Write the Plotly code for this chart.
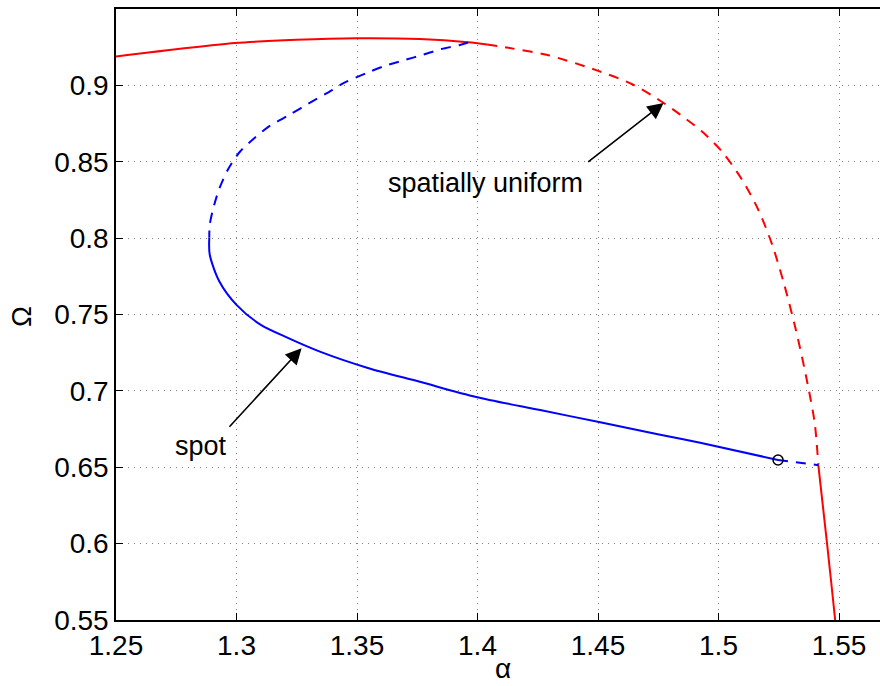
import plotly.graph_objects as go

# Spatially uniform branch (red): stable upper part, unstable middle part, stable lower part
uni_stable_top_a = [1.25, 1.2993, 1.3249, 1.3498, 1.3761, 1.3960, 1.4040]
uni_stable_top_w = [0.9191, 0.9279, 0.9300, 0.9310, 0.9305, 0.9285, 0.9270]

uni_unstable_a = [1.4040, 1.4134, 1.4287, 1.4495, 1.4646, 1.4771, 1.4841, 1.4928, 1.5015,
                  1.5098, 1.5165, 1.5223, 1.5273, 1.5321, 1.5362, 1.5399, 1.5414]
uni_unstable_w = [0.9270, 0.9246, 0.9202, 0.9100, 0.9006, 0.8888, 0.8810, 0.8704, 0.8567,
                  0.8383, 0.8187, 0.7957, 0.7695, 0.7400, 0.7106, 0.6791, 0.6516]

uni_stable_low_a = [1.5414, 1.5450, 1.5484, 1.5490]
uni_stable_low_w = [0.6516, 0.6005, 0.5500, 0.5400]

# Spot branch (blue): unstable upper part, stable lower part, unstable tail
spot_unstable_a = [1.3961, 1.3927, 1.3851, 1.3775, 1.3692, 1.3609, 1.3547, 1.3450, 1.3371,
                   1.3297, 1.3228, 1.3208, 1.3138, 1.3076, 1.3014, 1.2964, 1.2927, 1.2902,
                   1.2889, 1.2887]
spot_unstable_w = [0.9283, 0.9266, 0.9240, 0.9203, 0.9165, 0.9126, 0.9087, 0.9021, 0.8947,
                   0.8881, 0.8816, 0.8798, 0.8737, 0.8659, 0.8567, 0.8449, 0.8318, 0.8187,
                   0.8088, 0.8003]

spot_stable_a = [1.2887, 1.2889, 1.2929, 1.3000, 1.3101, 1.3213, 1.3346, 1.3545, 1.3761,
                 1.3994, 1.4260, 1.4509, 1.4758, 1.4924, 1.5247]
spot_stable_w = [0.8003, 0.7892, 0.7717, 0.7564, 0.7433, 0.7348, 0.7258, 0.7151, 0.7060,
                 0.6961, 0.6875, 0.6795, 0.6714, 0.6661, 0.6548]

spot_tail_a = [1.5247, 1.5415]
spot_tail_w = [0.6548, 0.6514]

# Marked point on the spot branch
mark_a = [1.5247]
mark_w = [0.6548]

x_ticks = [1.25, 1.3, 1.35, 1.4, 1.45, 1.5, 1.55]
x_labels = ["1.25", "1.3", "1.35", "1.4", "1.45", "1.5", "1.55"]
y_ticks = [0.55, 0.6, 0.65, 0.7, 0.75, 0.8, 0.85, 0.9]
y_labels = ["0.55", "0.6", "0.65", "0.7", "0.75", "0.8", "0.85", "0.9"]

FONT = "Liberation Sans, Arial, Helvetica, sans-serif"
RED = "#ff0000"
BLUE = "#0000ff"
DASH = "10px,8px"

# Plot-area edges in pixels, used to place the axis titles
L, R, T, B = 116, 880, 9, 620

fig = go.Figure()

def add_line(xs, ys, color, dash):
    fig.add_trace(go.Scatter(x=xs, y=ys, mode="lines",
                             line=dict(color=color, width=2, dash=dash,
                                       shape="spline", smoothing=0.8),
                             showlegend=False, hoverinfo="skip"))

add_line(uni_stable_top_a, uni_stable_top_w, RED, "solid")
add_line(uni_unstable_a, uni_unstable_w, RED, DASH)
add_line(uni_stable_low_a, uni_stable_low_w, RED, "solid")
add_line(spot_unstable_a, spot_unstable_w, BLUE, DASH)
add_line(spot_stable_a, spot_stable_w, BLUE, "solid")
add_line(spot_tail_a, spot_tail_w, BLUE, DASH)

fig.add_trace(go.Scatter(x=mark_a, y=mark_w, mode="markers",
                         marker=dict(symbol="circle-open", size=10,
                                     color="black", line=dict(width=1.5, color="black")),
                         showlegend=False, hoverinfo="skip"))

# Arrow labels
fig.add_annotation(x=1.4772, y=0.8886, ax=1.4453, ay=0.8493, xref="x", yref="y",
                   axref="x", ayref="y", text="", showarrow=True,
                   arrowhead=2, arrowsize=2.0, arrowwidth=1.6, arrowcolor="black")
fig.add_annotation(x=1.4035, y=0.8364, xref="x", yref="y", text="spatially uniform",
                   showarrow=False, font=dict(family=FONT, size=27, color="black"))

fig.add_annotation(x=1.3270, y=0.7280, ax=1.2965, ay=0.6756, xref="x", yref="y",
                   axref="x", ayref="y", text="", showarrow=True,
                   arrowhead=2, arrowsize=2.0, arrowwidth=1.6, arrowcolor="black")
fig.add_annotation(x=1.2853, y=0.6640, xref="x", yref="y", text="spot",
                   showarrow=False, font=dict(family=FONT, size=27, color="black"))

# Axis titles
fig.add_annotation(x=(21 - L) / (R - L), y=(B - 317) / (B - T), xref="paper", yref="paper",
                   xanchor="center", yanchor="middle", text="Ω", showarrow=False,
                   textangle=-90, font=dict(family=FONT, size=28, color="black"))
fig.add_annotation(x=(503 - L) / (R - L), y=0, xref="paper", yref="paper",
                   xanchor="center", yanchor="middle", yshift=-48, text="α",
                   showarrow=False, font=dict(family=FONT, size=28, color="black"))

grid = dict(showgrid=True, gridcolor="#808080", gridwidth=1, griddash="1px,5px")

fig.update_xaxes(range=[1.25, 1.567], tickvals=x_ticks, ticktext=x_labels,
                 ticks="inside", ticklen=7, tickcolor="black", tickwidth=1,
                 showline=True, linecolor="black", linewidth=1.5, mirror="ticks",
                 zeroline=False, tickfont=dict(family=FONT, size=28, color="black"),
                 **grid)
fig.update_yaxes(range=[0.55, 0.9502], tickvals=y_ticks, ticktext=y_labels,
                 ticks="inside", ticklen=7, tickcolor="black", tickwidth=1,
                 showline=True, linecolor="black", linewidth=1.5, mirror=False,
                 zeroline=False, tickfont=dict(family=FONT, size=28, color="black"),
                 **grid)

fig.update_layout(width=880, height=686, margin=dict(l=L, r=880 - R, t=T, b=686 - B),
                  plot_bgcolor="white", paper_bgcolor="white")

fig.write_html("out.html")
